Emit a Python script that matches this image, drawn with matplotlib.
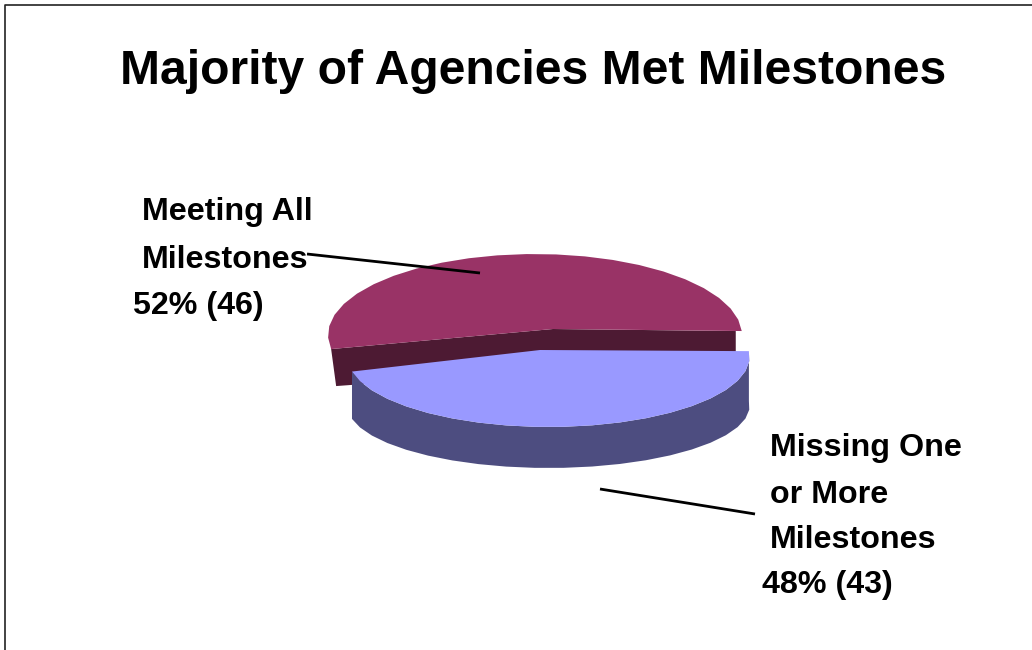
"""Exploded pseudo-3D pie: agencies meeting milestones. Axes are in image pixels."""
import numpy as np
import matplotlib
matplotlib.use("Agg")
import matplotlib.pyplot as plt
from matplotlib.patches import Polygon

plt.rcParams["font.family"] = ["Liberation Sans", "DejaVu Sans"]

TITLE = "Majority of Agencies Met Milestones"
categories = ["Meeting All\nMilestones", "Missing One\nor More\nMilestones"]
shares = [52, 48]
counts = [46, 43]

MAROON, MAROON_DARK = "#993366", "#4D1A33"
BLUE, BLUE_DARK = "#9999FF", "#4D4D80"


def arc(cx, cy, a, b, start, span, step=8.0):
    # faceted arc, the original has visibly straight segments
    th = np.radians(np.linspace(start, start + span, int(span / step) + 1))
    return np.column_stack([cx + a * np.cos(th), cy - b * np.sin(th)])


fig = plt.figure(figsize=(10.32, 6.5), dpi=100)
ax = fig.add_axes([0, 0, 1, 1])
ax.set_xlim(0, 1032)
ax.set_ylim(650, 0)
ax.axis("off")

# frame: only top and left edges are in the crop
ax.plot([5, 5, 1032], [650, 4.5, 4.5], color="#222222", lw=1.2)

span_a = 360 * shares[0] / sum(shares)
span_b = 360 * shares[1] / sum(shares)

# ---- maroon slice ----
top_a = arc(535, 335, 207, 81, 2.8, span_a)
apex_a = np.array([553, 329])
right_a, left_a = top_a[0], top_a[-1]
cut = np.array([left_a, apex_a, right_a - [6, 0], right_a + [-6, 41],
                apex_a + [0, 41], left_a + [5, 37]])
ax.add_patch(Polygon(cut, color=MAROON_DARK, lw=0))
ax.add_patch(Polygon(np.vstack([top_a, apex_a]), color=MAROON, lw=0))

# ---- blue slice, pulled forward ----
start_b = 192
top_b = arc(548.6, 357, 201, 70, start_b, span_b)
low_b = arc(548.6, 406, 201, 62, start_b, span_b)
ax.add_patch(Polygon(np.vstack([top_b, low_b[::-1]]), color=BLUE_DARK, lw=0))
ax.add_patch(Polygon(np.vstack([top_b, [540, 350]]), color=BLUE, lw=0))

# ---- leader lines ----
ax.plot([307, 480], [254, 273], color="black", lw=2, solid_capstyle="butt")
ax.plot([600, 755], [489, 514], color="black", lw=2, solid_capstyle="butt")

# ---- text ----
ax.text(533, 71, TITLE, fontsize=34.6, fontweight="bold", ha="center", va="center")

kw = dict(fontsize=23.2, fontweight="bold", ha="left", va="center")
for line, y in zip(categories[0].split("\n"), [212, 260]):
    ax.text(142, y, line, **kw)
ax.text(133, 306, f"{shares[0]}% ({counts[0]})", **kw)
for line, y in zip(categories[1].split("\n"), [448, 495, 540]):
    ax.text(770, y, line, **kw)
ax.text(762, 585, f"{shares[1]}% ({counts[1]})", **kw)

fig.savefig("out.png", dpi=100)
